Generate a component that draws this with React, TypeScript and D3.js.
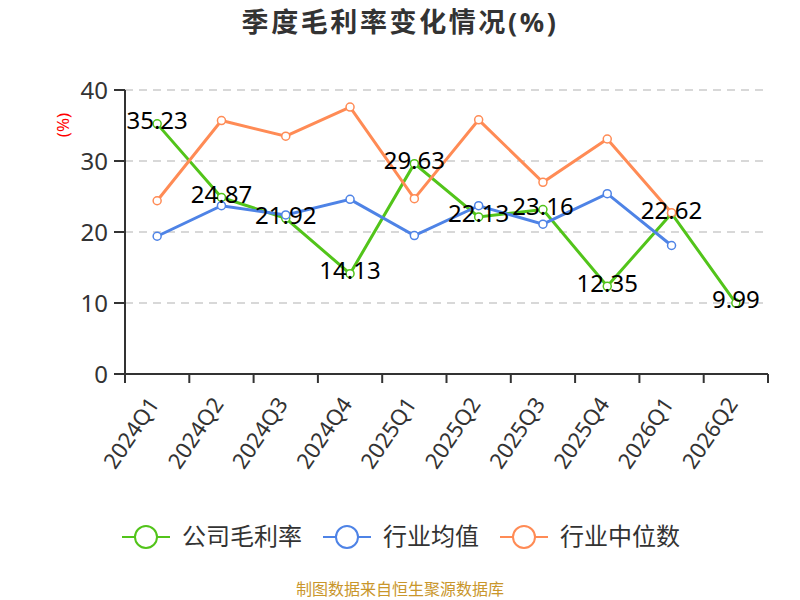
import React from "react";
import * as d3 from "d3";

const quarters = ["2024Q1", "2024Q2", "2024Q3", "2024Q4", "2025Q1", "2025Q2", "2025Q3", "2025Q4", "2026Q1", "2026Q2"];
const companyMargin = [35.23, 24.87, 21.92, 14.13, 29.63, 22.13, 23.16, 12.35, 22.62, 9.99];
const industryMean = [19.4, 23.7, 22.4, 24.6, 19.5, 23.7, 21.1, 25.4, 18.1, null];
const industryMedian = [24.4, 35.7, 33.5, 37.6, 24.7, 35.8, 27.0, 33.1, 22.7, null];
const yTicks = [0, 10, 20, 30, 40];

const seriesNames = ["公司毛利率", "行业均值", "行业中位数"];
const colors = ["#52c41a", "#4e83e6", "#ff8b55"];

const width = 800;
const height = 600;
const margin = { left: 125, right: 32, top: 90, bottom: 226 };
const font = "'Noto Sans', 'Noto Sans CJK SC', sans-serif";
const legendX = [146, 347, 524];

const App = () => {
  const x = d3
    .scaleBand()
    .domain(quarters)
    .range([margin.left, width - margin.right]);
  const y = d3
    .scaleLinear()
    .domain([0, 40])
    .range([height - margin.bottom, margin.top]);
  const cx = (q: string) => (x(q) as number) + x.bandwidth() / 2;

  const line = d3
    .line<any>()
    .defined((d) => d.v != null)
    .x((d) => cx(d.q))
    .y((d) => y(d.v));

  const allSeries = [companyMargin, industryMean, industryMedian].map((vals) =>
    quarters.map((q, i) => ({ q, v: vals[i] }))
  );
  const x0 = margin.left;
  const x1 = width - margin.right;
  const yBase = y(0);

  return (
    <svg width={width} height={height} style={{ position: "absolute", left: 0, top: 0 }}>
      <rect width={width} height={height} fill="#fff" />
      <text x={400} y={32} textAnchor="middle" fontSize={27} letterSpacing={2.6} fontWeight="bold" fill="#333" fontFamily={font}>
        季度毛利率变化情况(%)
      </text>

      {/* grid */}
      {yTicks.filter((t) => t > 0).map((t) => (
        <line key={t} x1={x0} x2={x1} y1={y(t)} y2={y(t)} stroke="#ccc" strokeDasharray="8,6" strokeWidth={1.5} />
      ))}

      {/* y axis */}
      <line x1={x0} x2={x0} y1={margin.top} y2={yBase} stroke="#333" strokeWidth={2} />
      {yTicks.map((t) => (
        <g key={t}>
          <line x1={x0 - 11} x2={x0} y1={y(t)} y2={y(t)} stroke="#333" strokeWidth={2} />
          <text x={x0 - 17} y={y(t)} dy="0.36em" textAnchor="end" fontSize={24} fill="#333" fontFamily={font}>
            {t}
          </text>
        </g>
      ))}
      <text
        transform={`translate(63,125) rotate(-90)`}
        textAnchor="middle"
        dy="0.35em"
        fontSize={17}
        fill="red"
        fontFamily={font}
      >
        (%)
      </text>

      {/* x axis */}
      <line x1={x0} x2={x1} y1={yBase} y2={yBase} stroke="#333" strokeWidth={2} />
      {[...quarters.map((q) => x(q) as number), x1].map((v, i) => (
        <line key={i} x1={v} x2={v} y1={yBase} y2={yBase + 9} stroke="#333" strokeWidth={2} />
      ))}
      {quarters.map((q) => (
        <text
          key={q}
          transform={`translate(${cx(q) + 3},${yBase + 30}) rotate(-56)`}
          textAnchor="end"
          fontSize={22}
          fill="#333"
          fontFamily={font}
        >
          {q}
        </text>
      ))}

      {/* lines */}
      {allSeries.map((s, i) => (
        <g key={i}>
          <path d={line(s) as string} fill="none" stroke={colors[i]} strokeWidth={3} />
          {s.filter((d) => d.v != null).map((d) => (
            <circle key={d.q} cx={cx(d.q)} cy={y(d.v as number)} r={4} fill="#fff" stroke={colors[i]} strokeWidth={1.5} />
          ))}
        </g>
      ))}

      {/* labels */}
      {allSeries[0].map((d) => (
        <text
          key={d.q}
          x={cx(d.q)}
          y={y(d.v as number) - 3}
          dy="0.35em"
          textAnchor="middle"
          fontSize={24}
          fill="#000"
          fontFamily={font}
        >
          {d.v!.toFixed(2)}
        </text>
      ))}

      {/* legend */}
      {seriesNames.map((n, i) => {
        const lx = legendX[i];
        return (
          <g key={n}>
            <line x1={lx - 24} x2={lx + 24} y1={537} y2={537} stroke={colors[i]} strokeWidth={2} />
            <circle cx={lx} cy={537} r={11} fill="#fff" stroke={colors[i]} strokeWidth={2} />
            <text x={lx + 36} y={537} dy="0.35em" fontSize={24} fill="#333" fontFamily={font}>
              {n}
            </text>
          </g>
        );
      })}

      <text x={400} y={595} textAnchor="middle" fontSize={16} fill="#c9962b" fontFamily={font}>
        制图数据来自恒生聚源数据库
      </text>
    </svg>
  );
};

export default App;
